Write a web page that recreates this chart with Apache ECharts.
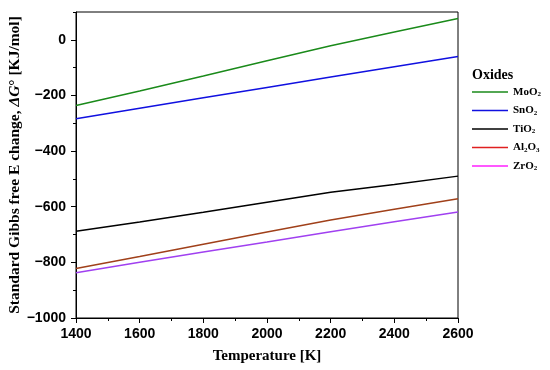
<!DOCTYPE html>
<html><head><meta charset="utf-8">
<script src="https://cdn.jsdelivr.net/npm/echarts@6/dist/echarts.min.js"></script>
<style>html,body{margin:0;padding:0;background:#fff}#c{width:550px;height:370px}</style>
</head><body><div id="c"></div>
<script>
const temps = [1400, 1600, 1800, 2000, 2200, 2400, 2600];
const MoO2 = [-236, -184, -130, -75, -21, 28, 77];
const SnO2 = [-284, -246, -208, -171, -134, -97, -60];
const TiO2 = [-688, -655, -620, -584, -548, -520, -490];
const Al2O3 = [-822, -779, -735, -691, -648, -609, -571];
const ZrO2 = [-837, -800, -763, -727, -690, -654, -619];
const seriesNames = ['MoO2', 'SnO2', 'TiO2', 'Al2O3', 'ZrO2'];
const legendLabels = {MoO2:'MoO{s|2}', SnO2:'SnO{s|2}', TiO2:'TiO{s|2}', Al2O3:'Al{s|2}O{s|3}', ZrO2:'ZrO{s|2}'};
const lineColors = ['#1a8a1a', '#1010e0', '#000000', '#a0401a', '#a040f0'];
const legendColors = ['#1a8a1a', '#1010e0', '#000000', '#e02020', '#ff20ff'];
const yTicks = [-1000, -800, -600, -400, -200, 0];
const dataSets = [MoO2, SnO2, TiO2, Al2O3, ZrO2];

const chart = echarts.init(document.getElementById('c'));
const serif = 'Liberation Serif';
const sans = 'Liberation Sans';
chart.setOption({
  animation: false,
  grid: {left: 76, right: 92, top: 12, bottom: 52, show: true, borderColor: '#000', borderWidth: 1,
    containLabel: false, outerBoundsMode: 'none'},
  title: {text: 'Oxides', left: 467, top: 63, textStyle: {fontFamily: serif, fontWeight: 'bold', fontSize: 14, color: '#000'}},
  legend: {
    orient: 'vertical', left: 467, top: 81, itemWidth: 36, itemHeight: 10, itemGap: 6.5,
    icon: 'path://M0,4.25L36,4.25L36,5.75L0,5.75Z',
    data: seriesNames.map((n, i) => ({name: n, itemStyle: {color: legendColors[i]}})),
    formatter: n => legendLabels[n],
    textStyle: {fontFamily: serif, fontWeight: 'bold', fontSize: 11, color: '#000', lineHeight: 12,
      rich: {s: {fontSize: 7, fontFamily: serif, fontWeight: 'bold', verticalAlign: 'bottom', padding: [4, 0, 0, 0], lineHeight: 12}}}
  },
  xAxis: {
    type: 'value', min: 1400, max: 2600, interval: 200,
    name: 'Temperature [K]', nameLocation: 'middle', nameGap: 31, nameMoveOverlap: false,
    nameTextStyle: {fontFamily: serif, fontWeight: 'bold', fontSize: 15, color: '#000'},
    axisLine: {show: true, onZero: false, lineStyle: {color: '#000', width: 1}},
    axisTick: {show: true, inside: false, length: 5, lineStyle: {color: '#000'}},
    minorTick: {show: true, splitNumber: 2, length: 3, lineStyle: {color: '#000'}},
    axisLabel: {fontFamily: sans, fontWeight: 'bold', fontSize: 14, color: '#000', margin: 9, formatter: v => String(v)},
    splitLine: {show: false}
  },
  yAxis: [{
    type: 'value', min: -1000, max: 100, interval: 200,
    name: 'Standard Gibbs free E change, {i|ΔG}° [KJ/mol]', nameLocation: 'middle', nameGap: 53, nameMoveOverlap: false,
    nameTextStyle: {fontFamily: serif, fontWeight: 'bold', fontSize: 15.5, color: '#000',
      rich: {i: {fontFamily: serif, fontWeight: 'bold', fontStyle: 'italic', fontSize: 15.5, color: '#000'}}},
    axisLine: {show: true, onZero: false, lineStyle: {color: '#000', width: 1}},
    axisTick: {show: true, length: 5, customValues: yTicks, lineStyle: {color: '#000'}},
    axisLabel: {fontFamily: sans, fontWeight: 'bold', fontSize: 14, color: '#000', margin: 10,
      customValues: yTicks, formatter: v => (v < 0 ? '\u2212' + Math.abs(v) : String(v))},
    splitLine: {show: false}
  }, {
    type: 'value', min: -1000, max: 100, interval: 100, position: 'left',
    axisLine: {show: false}, axisLabel: {show: false}, splitLine: {show: false},
    axisTick: {show: true, length: 3, lineStyle: {color: '#000'}}
  }],
  series: seriesNames.map((n, i) => ({
    name: n, type: 'line', symbol: 'none', yAxisIndex: 0,
    lineStyle: {color: lineColors[i], width: 1.5}, itemStyle: {color: lineColors[i]},
    data: temps.map((t, j) => [t, dataSets[i][j]])
  }))
});
</script></body></html>
